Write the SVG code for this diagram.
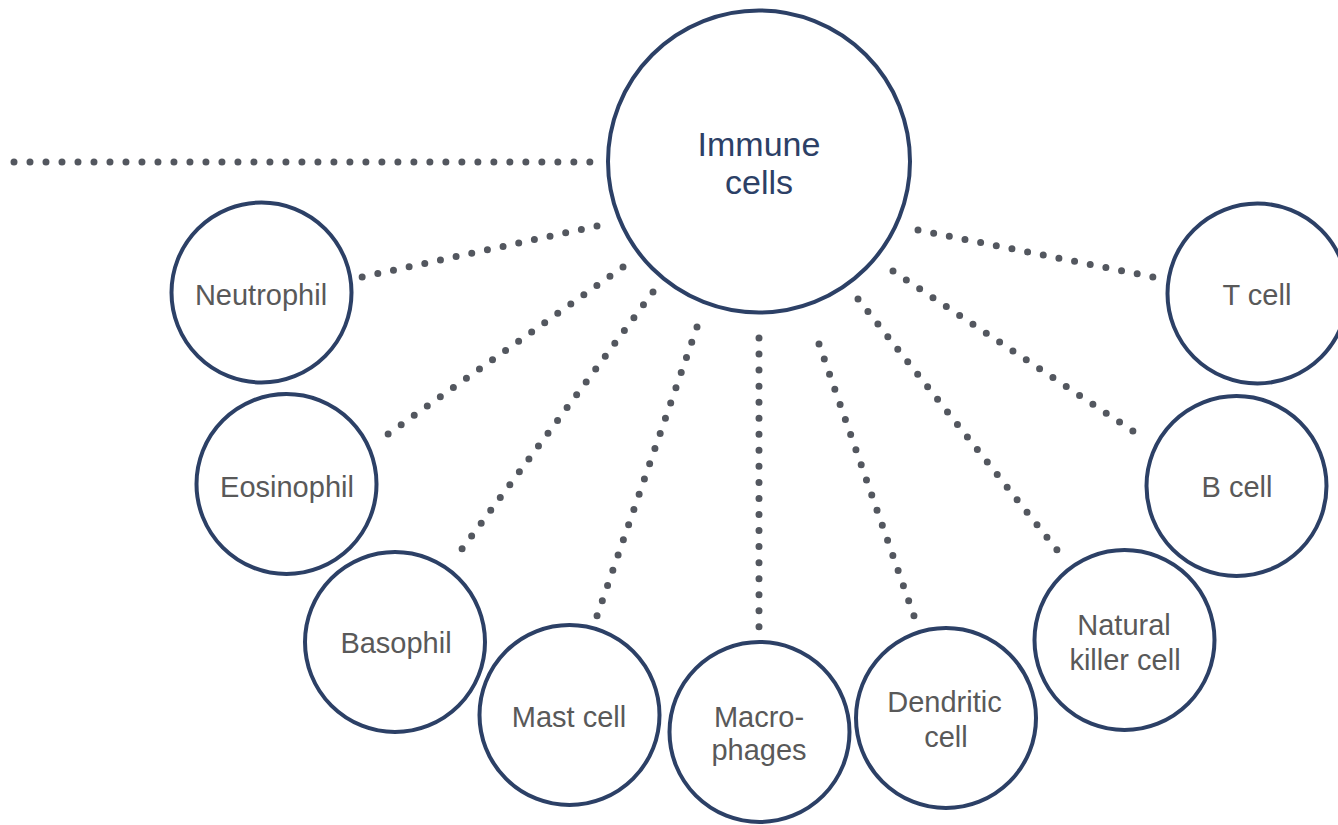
<svg xmlns="http://www.w3.org/2000/svg" width="1338" height="825" viewBox="0 0 1338 825">
<style>
.node{fill:#fff;stroke:#2C4066;stroke-width:4}
.lbl{font-family:"Liberation Sans",Arial,sans-serif;font-size:29px;fill:#595959;text-anchor:middle}
.main{font-family:"Liberation Sans",Arial,sans-serif;font-size:34px;fill:#2C4066;text-anchor:middle}
.dot{stroke:#53575F;stroke-width:7;stroke-linecap:round;stroke-dasharray:0 1;fill:none}
</style>
<rect width="1338" height="825" fill="#fff"/>
<g id="connectors">
<line class="dot" x1="14" y1="162" x2="590" y2="162" pathLength="36.01"/>
<line class="dot" x1="597" y1="226" x2="362" y2="277" pathLength="15.01"/>
<line class="dot" x1="623" y1="267" x2="388" y2="434" pathLength="18.01"/>
<line class="dot" x1="653" y1="292" x2="462" y2="549" pathLength="20.01"/>
<line class="dot" x1="697" y1="327" x2="597" y2="616" pathLength="19.01"/>
<line class="dot" x1="759" y1="338" x2="759" y2="627" pathLength="18.01"/>
<line class="dot" x1="819" y1="344" x2="914" y2="616" pathLength="18.01"/>
<line class="dot" x1="858" y1="299" x2="1057" y2="550" pathLength="20.01"/>
<line class="dot" x1="893" y1="271" x2="1133" y2="431" pathLength="18.01"/>
<line class="dot" x1="918" y1="230" x2="1153" y2="277" pathLength="15.01"/>
</g>
<g id="immune-cells"><circle class="node" cx="759" cy="161.5" r="151"/><text class="main" x="759" y="156">Immune</text><text class="main" x="759" y="194">cells</text></g>
<g id="neutrophil"><circle class="node" cx="261.5" cy="292.5" r="90"/><text class="lbl" x="261" y="305">Neutrophil</text></g>
<g id="eosinophil"><circle class="node" cx="286.5" cy="484" r="90"/><text class="lbl" x="287" y="497">Eosinophil</text></g>
<g id="basophil"><circle class="node" cx="395" cy="642" r="90"/><text class="lbl" x="396" y="653">Basophil</text></g>
<g id="mast-cell"><circle class="node" cx="569.5" cy="715" r="90"/><text class="lbl" x="569" y="727">Mast cell</text></g>
<g id="macrophages"><circle class="node" cx="759.5" cy="732" r="90"/><text class="lbl" x="759" y="727">Macro-</text><text class="lbl" x="759" y="760">phages</text></g>
<g id="dendritic-cell"><circle class="node" cx="946" cy="718" r="90"/><text class="lbl" x="944.5" y="712">Dendritic</text><text class="lbl" x="946" y="747">cell</text></g>
<g id="natural-killer-cell"><circle class="node" cx="1124.5" cy="640" r="90"/><text class="lbl" x="1124" y="635">Natural</text><text class="lbl" x="1125" y="670">killer cell</text></g>
<g id="b-cell"><circle class="node" cx="1236.5" cy="486" r="90"/><text class="lbl" x="1237" y="497">B cell</text></g>
<g id="t-cell"><circle class="node" cx="1257.5" cy="293.5" r="90"/><text class="lbl" x="1257" y="305">T cell</text></g>
</svg>
